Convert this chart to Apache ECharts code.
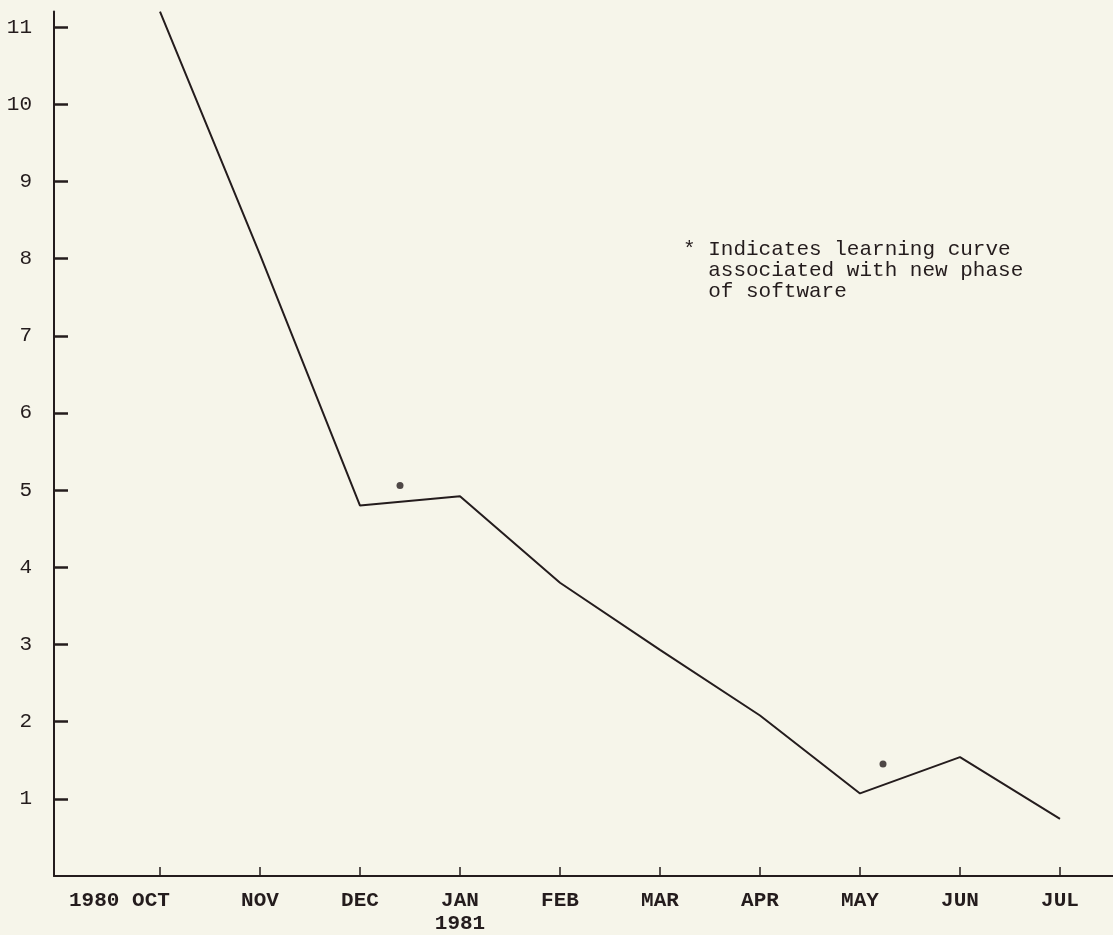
<!DOCTYPE html>
<html>
<head>
<meta charset="utf-8">
<script src="https://cdn.jsdelivr.net/npm/echarts@6/dist/echarts.min.js"></script>
<style>
html,body{margin:0;padding:0;background:#f6f5ea;}
#chart{width:1113px;height:935px;}
</style>
</head>
<body>
<div id="chart"></div>
<script>
// ---- data ----
const months = ['OCT', 'NOV', 'DEC', 'JAN', 'FEB', 'MAR', 'APR', 'MAY', 'JUN', 'JUL'];
const xTickLabels = ['OCT', 'NOV', 'DEC', 'JAN\n1981', 'FEB', 'MAR', 'APR', 'MAY', 'JUN', 'JUL'];
const startYear = '1980';
const values = [11.2, 8.05, 4.80, 4.92, 3.80, 2.93, 2.08, 1.07, 1.54, 0.74];
const yTicks = [1, 2, 3, 4, 5, 6, 7, 8, 9, 10, 11];
// asterisk markers: [month position (OCT = 1), value]
const markers = [[3.4, 5.06], [8.23, 1.45]];
const noteLines = ['* Indicates learning curve', '  associated with new phase', '  of software'];

const ink = '#241c1d';
const mono = '"Liberation Mono", "DejaVu Sans Mono", monospace';

const chart = echarts.init(document.getElementById('chart'));
// month positions on the x scale: OCT = 1 ... JUL = 10
const xPos = months.map((m, i) => i + 1);

chart.setOption({
  backgroundColor: '#f6f5ea',
  animation: false,
  grid: { left: 54, right: 0, top: 11.6, bottom: 56, containLabel: false },
  xAxis: {
    type: 'value',
    min: -0.06,
    max: 10.53,
    axisLine: { show: true, onZero: false, lineStyle: { color: ink, width: 2 } },
    axisTick: { show: true, inside: true, length: 9, customValues: xPos, lineStyle: { color: ink, width: 1.5 } },
    splitLine: { show: false },
    axisLabel: {
      customValues: xPos,
      showMinLabel: true,
      showMaxLabel: true,
      hideOverlap: false,
      margin: 13,
      color: ink,
      fontFamily: mono,
      fontSize: 21,
      fontWeight: 'bold',
      lineHeight: 23,
      formatter: function (v) {
        const i = Math.round(v) - 1;
        if (i === 0) return '{o|' + xTickLabels[0] + '}';
        return xTickLabels[i];
      },
      rich: {
        o: { fontFamily: mono, fontSize: 21, fontWeight: 'bold', color: ink, lineHeight: 23, padding: [0, 18, 0, 0] }
      }
    }
  },
  yAxis: {
    type: 'value',
    min: 0,
    max: 11.2,
    interval: 1,
    axisLine: { show: true, onZero: false, lineStyle: { color: ink, width: 2 } },
    axisTick: { show: true, inside: true, length: 14, customValues: yTicks, lineStyle: { color: ink, width: 2.5 } },
    splitLine: { show: false },
    axisLabel: {
      customValues: yTicks,
      showMinLabel: true,
      showMaxLabel: true,
      margin: 22,
      color: ink,
      fontFamily: mono,
      fontSize: 21,
      formatter: function (v) { return String(Math.round(v)); }
    }
  },
  series: [
    {
      type: 'line',
      data: values.map((v, i) => [xPos[i], v]),
      symbol: 'none',
      clip: false,
      lineStyle: { color: ink, width: 2 }
    },
    {
      type: 'scatter',
      data: markers,
      symbol: 'circle',
      symbolSize: 7,
      itemStyle: { color: ink }
    }
  ],
  graphic: [
    {
      type: 'text',
      left: 683,
      top: 239,
      style: {
        text: noteLines.join('\n'),
        font: '21px ' + mono,
        fill: ink,
        lineHeight: 21
      }
    }
  ]
});

// place the year before the first month label, using the axis scale
const octPx = chart.convertToPixel({ xAxisIndex: 0 }, xPos[0]);
const axisPx = chart.convertToPixel({ yAxisIndex: 0 }, 0);
chart.setOption({
  graphic: [
    {
      type: 'text',
      left: 683,
      top: 239,
      style: { text: noteLines.join('\n'), font: '21px ' + mono, fill: ink, lineHeight: 21 }
    },
    {
      type: 'text',
      x: octPx - 91,
      y: axisPx + 13,
      style: {
        text: startYear,
        font: 'bold 21px ' + mono,
        fill: ink,
        lineHeight: 23,
        verticalAlign: 'top'
      }
    }
  ]
});
</script>
</body>
</html>
